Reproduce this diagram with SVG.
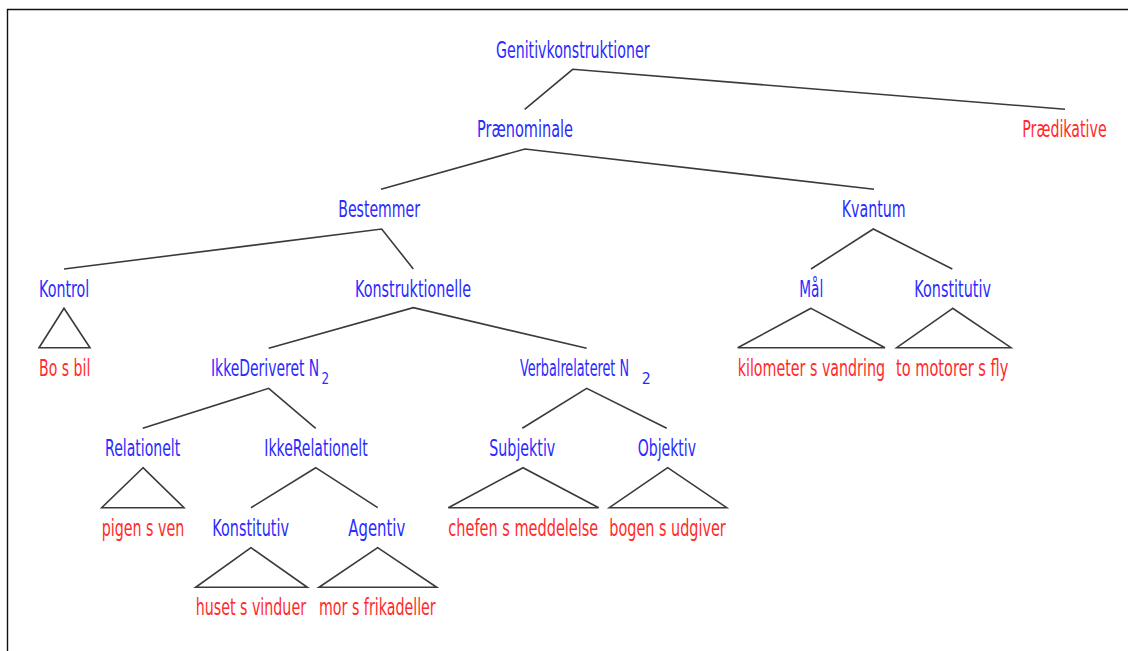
<svg xmlns="http://www.w3.org/2000/svg" width="1128" height="651" viewBox="0 0 1128 651">
<style>
text{font-family:"DejaVu Sans","Liberation Sans",sans-serif;font-size:23px}
.b{fill:#2b2bff}
.r{fill:#ff2b2b}
.sub{font-size:16px}
.c{fill:none;stroke:#3a3a3a;stroke-width:1.6;stroke-linejoin:miter}
</style>
<rect width="1128" height="651" fill="#fff"/>
<path d="M7.5,651 V9.5 H1128" fill="none" stroke="#111" stroke-width="1.4"/>
<g id="connectors" class="c">
<path d="M524.7,109.3 L572.7,69.3 L1065,109.3"/>
<path d="M381,189.3 L525,149 L874,189.3"/>
<path d="M64,269 L381.7,229 L413.3,269"/>
<path d="M811,269 L873.3,229 L952.3,269"/>
<path d="M268.7,348.3 L413.3,307.7 L586.7,348.3"/>
<path d="M142.7,428.3 L268.7,388.3 L315.7,428.3"/>
<path d="M522.3,428.3 L586.7,388.3 L666.7,428.3"/>
<path d="M251,507.7 L315.7,467.7 L377.7,507.7"/>
<polygon points="64,308.3 39,347.7 90,347.7"/>
<polygon points="811,308.3 737.7,347.7 885,347.7"/>
<polygon points="952.7,308.3 896.7,347.7 1011,347.7"/>
<polygon points="143,467.7 101.7,507.7 184,507.7"/>
<polygon points="523,467.7 448.3,507.7 598.7,507.7"/>
<polygon points="667.7,467.7 609.3,507.7 726.7,507.7"/>
<polygon points="251,547.7 195.7,587.3 307.3,587.3"/>
<polygon points="377.7,547.7 319,587.3 436.7,587.3"/>
</g>
<g id="labels" transform="scale(0.62,1)">
<g id="n-genitiv"><text class="b" x="799.98" y="58.5" textLength="247.58" lengthAdjust="spacingAndGlyphs">Genitivkonstruktioner</text></g>
<g id="n-praenominale"><text class="b" x="769.35" y="137.5" textLength="154.84" lengthAdjust="spacingAndGlyphs">Prænominale</text></g>
<g id="n-praedikative"><text class="r" x="1648.87" y="137.5" textLength="136.13" lengthAdjust="spacingAndGlyphs">Prædikative</text></g>
<g id="n-bestemmer"><text class="b" x="545.65" y="217.5" textLength="131.77" lengthAdjust="spacingAndGlyphs">Bestemmer</text></g>
<g id="n-kvantum"><text class="b" x="1357.58" y="217.5" textLength="103.23" lengthAdjust="spacingAndGlyphs">Kvantum</text></g>
<g id="n-kontrol"><text class="b" x="62.9" y="297" textLength="81.13" lengthAdjust="spacingAndGlyphs">Kontrol</text></g>
<g id="n-konstruktionelle"><text class="b" x="572.58" y="297" textLength="187.1" lengthAdjust="spacingAndGlyphs">Konstruktionelle</text></g>
<g id="n-maal"><text class="b" x="1289.19" y="297" textLength="38.71" lengthAdjust="spacingAndGlyphs">Mål</text></g>
<g id="n-konstitutiv2"><text class="b" x="1474.68" y="297" textLength="123.71" lengthAdjust="spacingAndGlyphs">Konstitutiv</text></g>
<g id="n-bosbil"><text class="r" x="62.9" y="376.5" textLength="82.74" lengthAdjust="spacingAndGlyphs">Bo s bil</text></g>
<g id="n-ikkederiveret"><text class="b" x="340.32" y="376.5" textLength="174.68" lengthAdjust="spacingAndGlyphs">IkkeDeriveret N</text><text class="b sub" x="518.5" y="384.3" textLength="12.26" lengthAdjust="spacingAndGlyphs">2</text></g>
<g id="n-verbalrelateret"><text class="b" x="838.71" y="376.5" textLength="175.81" lengthAdjust="spacingAndGlyphs">Verbalrelateret N</text><text class="b sub" x="1035" y="384.3" textLength="14.52" lengthAdjust="spacingAndGlyphs">2</text></g>
<g id="n-kilometer"><text class="r" x="1189.84" y="376.5" textLength="237.58" lengthAdjust="spacingAndGlyphs">kilometer s vandring</text></g>
<g id="n-tomotorer"><text class="r" x="1445.16" y="376.5" textLength="181.13" lengthAdjust="spacingAndGlyphs">to motorer s fly</text></g>
<g id="n-relationelt"><text class="b" x="169.35" y="456.5" textLength="121.45" lengthAdjust="spacingAndGlyphs">Relationelt</text></g>
<g id="n-ikkerelationelt"><text class="b" x="426.29" y="456.5" textLength="166.77" lengthAdjust="spacingAndGlyphs">IkkeRelationelt</text></g>
<g id="n-subjektiv"><text class="b" x="789.19" y="456.5" textLength="106.45" lengthAdjust="spacingAndGlyphs">Subjektiv</text></g>
<g id="n-objektiv"><text class="b" x="1028.55" y="456.5" textLength="94.03" lengthAdjust="spacingAndGlyphs">Objektiv</text></g>
<g id="n-pigen"><text class="r" x="164.03" y="536.5" textLength="133.23" lengthAdjust="spacingAndGlyphs">pigen s ven</text></g>
<g id="n-konstitutiv1"><text class="b" x="342.42" y="536.5" textLength="123.71" lengthAdjust="spacingAndGlyphs">Konstitutiv</text></g>
<g id="n-agentiv"><text class="b" x="561.77" y="536.5" textLength="91.94" lengthAdjust="spacingAndGlyphs">Agentiv</text></g>
<g id="n-chefen"><text class="r" x="723.06" y="536.5" textLength="241.94" lengthAdjust="spacingAndGlyphs">chefen s meddelelse</text></g>
<g id="n-bogen"><text class="r" x="982.74" y="536.5" textLength="187.74" lengthAdjust="spacingAndGlyphs">bogen s udgiver</text></g>
<g id="n-huset"><text class="r" x="315.65" y="615.5" textLength="177.9" lengthAdjust="spacingAndGlyphs">huset s vinduer</text></g>
<g id="n-mor"><text class="r" x="514.52" y="615.5" textLength="188.23" lengthAdjust="spacingAndGlyphs">mor s frikadeller</text></g>
</g>
</svg>
